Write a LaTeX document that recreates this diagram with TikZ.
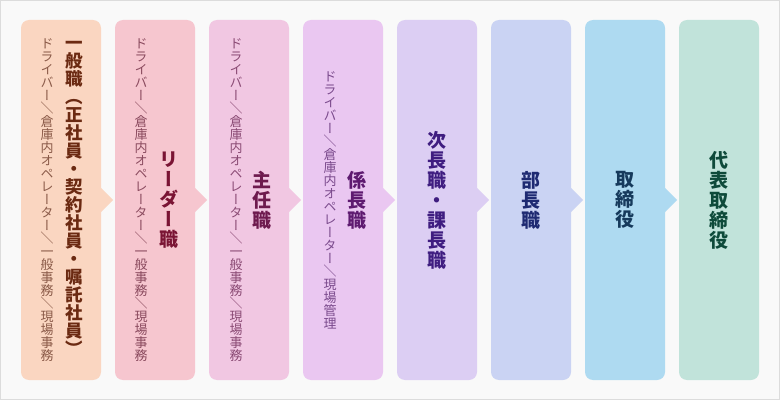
\documentclass[tikz,border=0pt]{standalone}
\usepackage{fontspec}
\usepackage{graphicx}
\newfontfamily\tatefont[RawFeature=+vert]{Noto Sans CJK JP}
\newfontfamily\yokofont{Noto Sans CJK JP}
\usetikzlibrary{positioning}
\definecolor{paper}{HTML}{F9F9F9}
\definecolor{frame}{HTML}{DCDCDC}
\definecolor{box1}{HTML}{FAD6C1} \definecolor{ink1}{HTML}{6B2A12} \definecolor{pale1}{HTML}{8A5A48}
\definecolor{box2}{HTML}{F6C6CF} \definecolor{ink2}{HTML}{7A1434} \definecolor{pale2}{HTML}{8A4A5E}
\definecolor{box3}{HTML}{F1C7E2} \definecolor{ink3}{HTML}{6E1A4E} \definecolor{pale3}{HTML}{8A4A74}
\definecolor{box4}{HTML}{EAC7F1} \definecolor{ink4}{HTML}{5E1A70} \definecolor{pale4}{HTML}{7A4A8C}
\definecolor{box5}{HTML}{DCCEF3} \definecolor{ink5}{HTML}{3F1D80}
\definecolor{box6}{HTML}{CAD3F3} \definecolor{ink6}{HTML}{1E2A72}
\definecolor{box7}{HTML}{AEDAF1} \definecolor{ink7}{HTML}{163A5C}
\definecolor{box8}{HTML}{C1E3DA} \definecolor{ink8}{HTML}{0E4A3A}
% vertical stack, one character per line
\newcommand\kugiri{\rotatebox[origin=c]{-90}{\yokofont ／}}
\makeatletter
\newcommand\tate[1]{\vbox{\@tfor\tatechar:=#1\do{\hbox to 1em{\hss\tatechar\hss}}}}
\makeatother
\tikzset {
    node distance=14pt,
    stage/.style={rectangle, rounded corners=8pt, minimum width=80pt, minimum height=360pt, inner sep=0pt, outer sep=0pt, fill=#1},
    rank/.style={font=\tatefont\bfseries\fontsize{19}{20}\selectfont, inner sep=0pt},
    duty/.style={font=\tatefont\fontsize{13}{13}\selectfont, inner sep=0pt}
}
\begin{document}
\begin{tikzpicture}[x=1pt, y=1pt]
    \fill[paper, draw=frame, line width=1pt] (0.5,0.5) rectangle (779.5,399.5);

    \node[stage=box1, anchor=south west] (s1) at (21,20) {};
    \node[stage=box2, right=of s1] (s2) {};
    \node[stage=box3, right=of s2] (s3) {};
    \node[stage=box4, right=of s3] (s4) {};
    \node[stage=box5, right=of s4] (s5) {};
    \node[stage=box6, right=of s5] (s6) {};
    \node[stage=box7, right=of s6] (s7) {};
    \node[stage=box8, right=of s7] (s8) {};

    \foreach \i in {1,...,7}
        \fill[box\i] ([yshift=12pt]s\i.east) -- ++(12pt,-12pt) -- ([yshift=-12pt]s\i.east) -- cycle;

    \node[duty, text=pale1] (d1) at ([xshift=-14pt]s1.center) {\tate{ドライバー\kugiri 倉庫内オペレーター\kugiri 一般事務\kugiri 現場事務}};
    \node[rank, text=ink1, font=\tatefont\bfseries\fontsize{17.5}{18}\selectfont] (r1) at ([xshift=13pt,yshift=2pt]s1.center) {\tate{一般職（正社員・契約社員・嘱託社員）}};
    \node[duty, text=pale2] (d2) at ([xshift=-14pt]s2.center) {\tate{ドライバー\kugiri 倉庫内オペレーター\kugiri 一般事務\kugiri 現場事務}};
    \node[rank, text=ink2] (r2) at ([xshift=14pt]s2.center) {\tate{リーダー職}};
    \node[duty, text=pale3] (d3) at ([xshift=-13pt]s3.center) {\tate{ドライバー\kugiri 倉庫内オペレーター\kugiri 一般事務\kugiri 現場事務}};
    \node[rank, text=ink3] (r3) at ([xshift=13pt]s3.center) {\tate{主任職}};
    \node[duty, text=pale4] (d4) at ([xshift=-13pt]s4.center) {\tate{ドライバー\kugiri 倉庫内オペレーター\kugiri 現場管理}};
    \node[rank, text=ink4] (r4) at ([xshift=14pt]s4.center) {\tate{係長職}};
    \node[rank, text=ink5] (r5) at (s5.center) {\tate{次長職・課長職}};
    \node[rank, text=ink6] (r6) at (s6.center) {\tate{部長職}};
    \node[rank, text=ink7] (r7) at (s7.center) {\tate{取締役}};
    \node[rank, text=ink8] (r8) at (s8.center) {\tate{代表取締役}};
\end{tikzpicture}
\end{document}
